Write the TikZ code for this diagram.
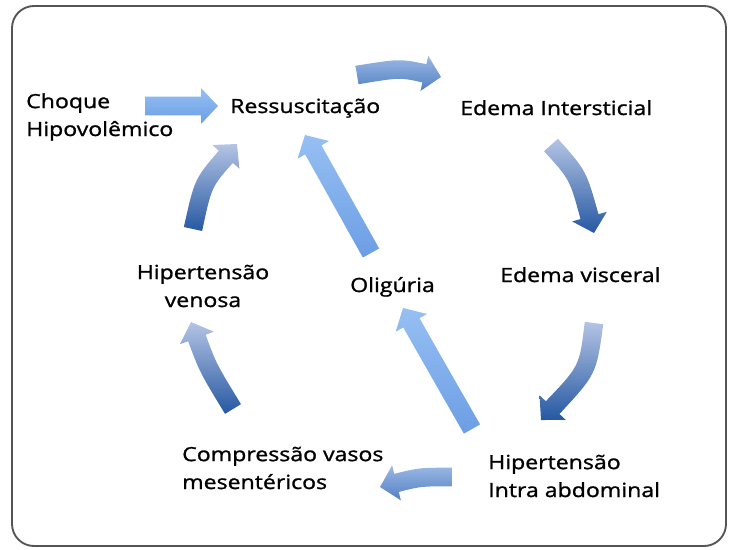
\documentclass[tikz,border=0pt]{standalone}
\usepackage{fontspec}
\setmainfont{Open Sans}[FakeStretch=1.18, FakeBold=1.2]
\usepackage{xcolor}
\usepackage{tikz}
\usetikzlibrary{calc}
\definecolor{framegray}{RGB}{85,85,85}
\definecolor{curvetop}{RGB}{180,196,228}
\definecolor{curvebot}{RGB}{38,88,162}
\definecolor{sidetop}{RGB}{155,184,228}
\definecolor{sidebot}{RGB}{82,128,196}
\definecolor{flattop}{RGB}{150,192,243}
\definecolor{flatbot}{RGB}{108,158,228}

\newcommand{\shaftw}{0.28cm}
\newcommand{\headw}{0.54cm}
\newcommand{\headlen}{0.51cm}
% #1 tail, #2 bend point, #3 tip, #4 shading style
\newcommand{\cyclearrow}[4]{%
  \coordinate (#1-h) at ($(#3)!\headlen!(#2)$);
  \coordinate (#1-l) at ($(#1)!\shaftw!90:(#1-h)$);
  \coordinate (#1-r) at ($(#1)!\shaftw!-90:(#1-h)$);
  \shade[#4] ($(#1)!\shaftw!90:(#2)$)
    .. controls ($(#2)+(#1-l)-(#1)$) .. ($(#1-h)!\shaftw!-90:(#2)$)
    -- ($(#1-h)!\headw!-90:(#2)$) -- (#3) -- ($(#1-h)!\headw!90:(#2)$)
    -- ($(#1-h)!\shaftw!90:(#2)$)
    .. controls ($(#2)+(#1-r)-(#1)$) .. ($(#1)!\shaftw!-90:(#2)$) -- cycle;}

\begin{document}
\begin{tikzpicture}[x=0.03cm, y=-0.03cm,
  txt/.style={font=\fontsize{16.7pt}{23.8pt}\selectfont, inner sep=0pt, anchor=base west},
  curved/.style={top color=curvetop, bottom color=curvebot},
  sideways/.style={top color=sidetop, bottom color=sidebot},
  straight/.style={top color=flattop, bottom color=flatbot}]
\useasboundingbox (0,0) rectangle (729,549);
\draw[line width=1.6pt, color=framegray, rounded corners=0.66cm] (12,6) rectangle (726,546);

% multi-line nodes sit on the baseline of their last line
\node[txt, align=left] (choque) at (26,136) {Choque\\Hipovolêmico};
\node[txt] (ress) at (230,113) {Ressuscitação};
\node[txt] (edint) at (460,115) {Edema Intersticial};
\node[txt] (edvis) at (500,282) {Edema visceral};
\node[txt, align=left] (hia) at (488,497) {Hipertensão\\Intra abdominal};
\node[txt, align=left] (comp) at (182,489) {Compressão vasos\\mesentéricos};
\node[txt, align=center, anchor=base] (hven) at (203,307) {Hipertensão\\venosa};
\node[txt] (olig) at (350,292) {Oligúria};

\coordinate (ch-t) at (145,106); \coordinate (ch-c) at (180,106); \coordinate (ch-b) at (218,106);
\coordinate (rs-t) at (357,75);  \coordinate (rs-c) at (400,68);  \coordinate (rs-b) at (441,77);
\coordinate (ei-t) at (551,145); \coordinate (ei-c) at (578,175); \coordinate (ei-b) at (594,233);
\coordinate (ev-t) at (594,323); \coordinate (ev-c) at (588,370); \coordinate (ev-b) at (541,420);
\coordinate (ia-t) at (452,477); \coordinate (ia-c) at (420,477); \coordinate (ia-b) at (380,487);
\coordinate (cm-t) at (233,409); \coordinate (cm-c) at (208,368); \coordinate (cm-b) at (191,322);
\coordinate (hv-t) at (193,229); \coordinate (hv-c) at (203,183); \coordinate (hv-b) at (237,144);
\coordinate (ol-t) at (371,253); \coordinate (ol-c) at (338,194); \coordinate (ol-b) at (305,135);
\coordinate (io-t) at (472,429); \coordinate (io-c) at (437,368); \coordinate (io-b) at (403,308);

\cyclearrow{ch-t}{ch-c}{ch-b}{straight}
\cyclearrow{rs-t}{rs-c}{rs-b}{sideways}
\cyclearrow{ei-t}{ei-c}{ei-b}{curved}
\cyclearrow{ev-t}{ev-c}{ev-b}{curved}
\cyclearrow{ia-t}{ia-c}{ia-b}{sideways}
\cyclearrow{cm-t}{cm-c}{cm-b}{curved}
\cyclearrow{hv-t}{hv-c}{hv-b}{curved}
\cyclearrow{ol-t}{ol-c}{ol-b}{straight}
\cyclearrow{io-t}{io-c}{io-b}{straight}
\end{tikzpicture}
\end{document}
